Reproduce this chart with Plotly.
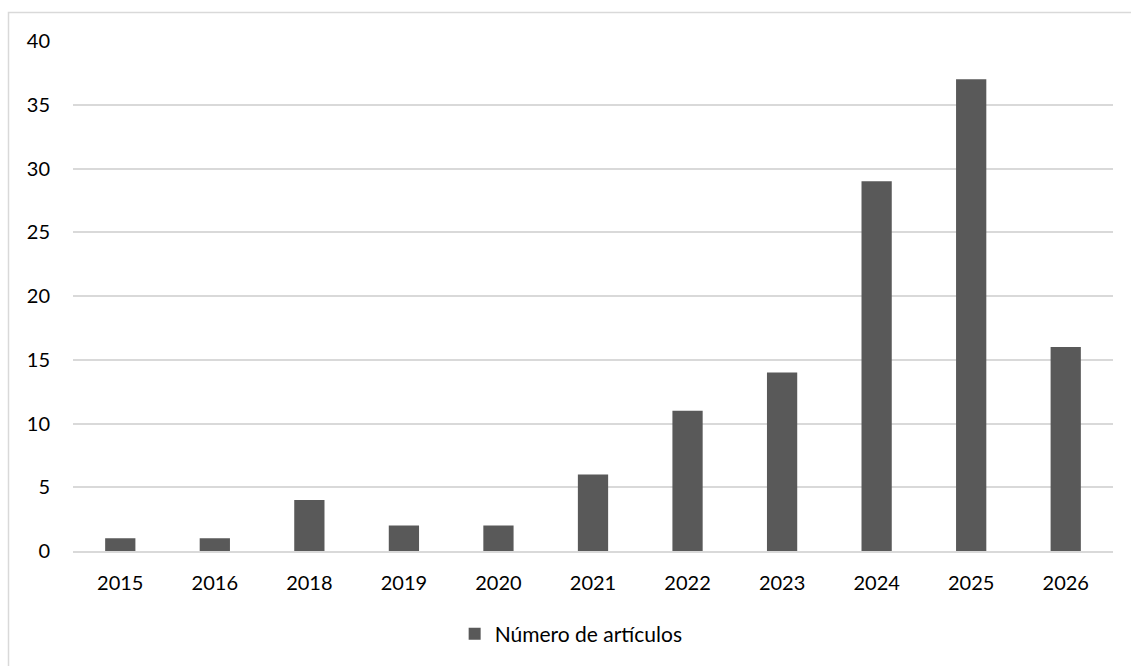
import plotly.graph_objects as go

years = ["2015", "2016", "2018", "2019", "2020", "2021", "2022", "2023", "2024", "2025", "2026"]
articles = [1, 1, 4, 2, 2, 6, 11, 14, 29, 37, 16]
y_ticks = [0, 5, 10, 15, 20, 25, 30, 35, 40]

W, H = 1131, 666
L, R, T, B = 73, 18, 41, 115
pw, ph = W - L - R, H - T - B

fig = go.Figure()
fig.add_trace(go.Bar(
    x=years, y=articles, name="Número de artículos",
    marker=dict(color="#595959", line=dict(width=0)),
    showlegend=True,
))

fig.update_layout(
    width=W, height=H,
    margin=dict(l=L, r=R, t=T, b=B, autoexpand=False),
    paper_bgcolor="white", plot_bgcolor="white",
    font=dict(family="Lato, Open Sans, sans-serif", size=20, color="#000000"),
    bargap=0.68,
    showlegend=True,
    legend=dict(orientation="h", x=0.479, xanchor="center",
                y=(551 - 634) / ph, yanchor="middle",
                font=dict(size=21, color="#000000"),
                itemwidth=30),
    xaxis=dict(type="category", showgrid=False, showline=True,
               linecolor="#d9d9d9", linewidth=2, ticks="",
               ticklabelstandoff=13),
    yaxis=dict(range=[0, 40], tickvals=y_ticks, showgrid=True,
               gridcolor="#d9d9d9", gridwidth=1.5, zeroline=False,
               showline=False, ticks="", ticklabelstandoff=22),
    shapes=[dict(type="rect", xref="paper", yref="paper",
                 x0=(8.5 - L) / pw, x1=(W + 20 - L) / pw,
                 y0=-(H + 20 - T - ph) / ph - 0.1, y1=(H - B - 12.5) / ph,
                 line=dict(color="#d9d9d9", width=1.5), layer="below")],
)

fig.write_html("out.html")
